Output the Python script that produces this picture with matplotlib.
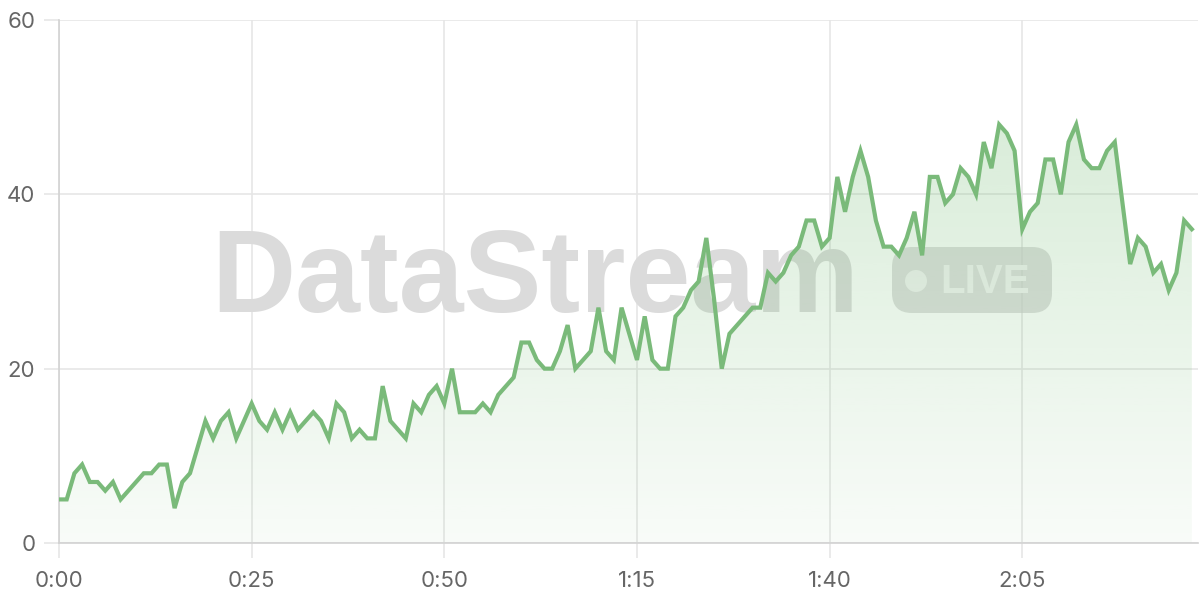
import numpy as np
import matplotlib
matplotlib.use('Agg')
from matplotlib import pyplot as plt
from matplotlib.patches import FancyBboxPatch, Circle
from matplotlib.transforms import IdentityTransform

# values read per second (0:00 .. 2:27)
values = [5, 5, 8, 9, 7, 7, 6, 7, 5, 6, 7, 8, 8, 9, 9,
          4, 7, 8, 11, 14, 12, 14, 15, 12, 14,
          16, 14, 13, 15, 13, 15, 13, 14, 15, 14, 12, 16, 15, 12, 13, 12, 12, 18, 14, 13, 12, 16, 15, 17, 18,
          16, 20, 15, 15, 15, 16, 15, 17, 18, 19, 23, 23, 21, 20, 20, 22, 25, 20, 21, 22, 27, 22, 21, 27, 24,
          21, 26, 21, 20, 20, 26, 27, 29, 30, 35, 28, 20, 24, 25, 26, 27, 27, 31, 30, 31, 33, 34, 37, 37, 34,
          35, 42, 38, 42, 45, 42, 37, 34, 34, 33, 35, 38, 33, 42, 42, 39, 40, 43, 42, 40, 46, 43, 48, 47, 45,
          36, 38, 39, 44, 44, 40, 46, 48, 44, 43, 43, 45, 46, 39, 32, 35, 34, 31, 32, 29, 31, 37, 36]
seconds = np.arange(len(values))

x_ticks = [0, 25, 50, 75, 100, 125]
x_tick_labels = ['0:00', '0:25', '0:50', '1:15', '1:40', '2:05']
y_ticks = [0, 20, 40, 60]

line_color = '#7aba7a'
grid_color = '#e6e6e6'
text_color = '#666666'

fig = plt.figure(figsize=(12, 6), dpi=100)
ax = fig.add_axes([59/1200, 1-543/600, (1198-59)/1200, (543-20)/600])

ax.set_xlim(0, 147.8)
ax.set_ylim(0, 60)

# watermark inside the axes, under the fill and line (pixel coords)
px = IdentityTransform()
ax.text(211, 600-312, 'DataStream', transform=px, fontsize=84,
        fontweight='bold', family='Liberation Sans', color='#dbdbdb',
        ha='left', va='baseline', zorder=1.5, clip_on=False)
badge = FancyBboxPatch((892, 600-313), 160, 66,
                       boxstyle='round,pad=0,rounding_size=20',
                       transform=px, facecolor='#cdcdcd',
                       edgecolor='none', alpha=0.65, zorder=1.5, clip_on=False)
ax.add_patch(badge)
ax.add_patch(Circle((916, 600-281), 11, transform=px, facecolor='#f2f2f2',
                    edgecolor='none', zorder=1.6, clip_on=False))
ax.text(940, 600-293, 'LIVE', transform=px, fontsize=29, fontweight='bold',
        family='Liberation Sans', color='#f2f2f2',
        ha='left', va='baseline', zorder=1.6, clip_on=False)

# gradient fill under the line
poly = ax.fill_between(seconds, values, 0, color='none', zorder=2)
grad = np.zeros((256, 1, 4))
grad[:, 0, 0] = 120/255
grad[:, 0, 1] = 190/255
grad[:, 0, 2] = 120/255
grad[:, 0, 3] = np.linspace(0.28, 0.05, 256)
img = ax.imshow(grad, extent=[0, seconds[-1], 0, max(values)], aspect='auto',
                origin='upper', zorder=2)
img.set_clip_path(poly.get_paths()[0], transform=ax.transData)

ax.plot(seconds, values, color=line_color, lw=3, zorder=3, solid_joinstyle='miter')

ax.set_xticks(x_ticks)
ax.set_xticklabels(x_tick_labels)
ax.set_yticks(y_ticks)
ax.grid(True, color=grid_color, lw=1.2, zorder=1)
ax.set_axisbelow(True)
ax.tick_params(axis='both', length=11, width=1.2, color=grid_color,
               labelcolor=text_color, labelsize=16)
ax.tick_params(axis='x', pad=9)
ax.tick_params(axis='y', pad=6)
for lab in ax.get_xticklabels() + ax.get_yticklabels():
    lab.set_family('Inter')
for side in ['top', 'right']:
    ax.spines[side].set_visible(False)
for side in ['left', 'bottom']:
    ax.spines[side].set_color('#d2d2d2')
    ax.spines[side].set_linewidth(1.2)

plt.savefig('out.png', dpi=100)
